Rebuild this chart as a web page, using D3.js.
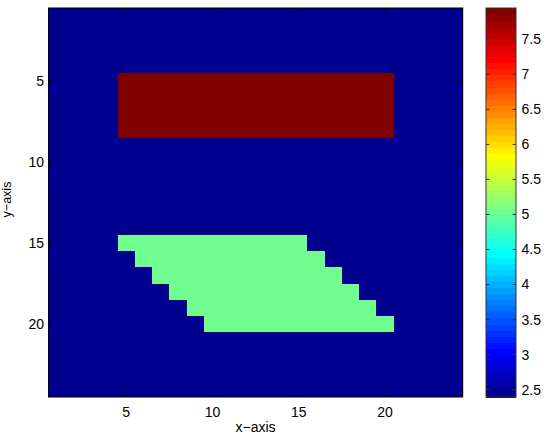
<!DOCTYPE html>
<html>
<head>
<meta charset="utf-8">
<script src="https://cdn.jsdelivr.net/npm/d3@7"></script>
<style>
  html, body { margin: 0; padding: 0; background: #fff; }
  text { font-family: "Liberation Sans", Arial, Helvetica, sans-serif; }
</style>
</head>
<body>
<svg id="chart" width="550" height="440"></svg>
<script>
// ---- data ----
// grid rows (y = 1..24), each char is a level index into levelValues
const gridRows = [
  "000000000000000000000000",
  "000000000000000000000000",
  "000000000000000000000000",
  "000000000000000000000000",
  "000022222222222222220000",
  "000022222222222222220000",
  "000022222222222222220000",
  "000022222222222222220000",
  "000000000000000000000000",
  "000000000000000000000000",
  "000000000000000000000000",
  "000000000000000000000000",
  "000000000000000000000000",
  "000000000000000000000000",
  "000011111111111000000000",
  "000001111111111100000000",
  "000000111111111110000000",
  "000000011111111111000000",
  "000000001111111111100000",
  "000000000111111111110000",
  "000000000000000000000000",
  "000000000000000000000000",
  "000000000000000000000000",
  "000000000000000000000000"
];
const levelValues = [2.394, 5.04, 7.947];
const colorLimits = [2.394, 7.947];
const xTicks = [5, 10, 15, 20];
const yTicks = [5, 10, 15, 20];
const cbTicks = [2.5, 3, 3.5, 4, 4.5, 5, 5.5, 6, 6.5, 7, 7.5];
const xLabel = "x\u2212axis";
const yLabel = "y\u2212axis";

// ---- MATLAB jet colormap ----
function jet(m) {
  const n = Math.ceil(m / 4);
  const u = [];
  for (let i = 1; i <= n; i++) u.push(i / n);
  for (let i = 1; i <= n - 1; i++) u.push(1);
  for (let i = n; i >= 1; i--) u.push(i / n);
  const off = Math.ceil(n / 2) - (m % 4 === 1 ? 1 : 0);
  const J = d3.range(m).map(() => [0, 0, 0]);
  u.forEach((v, k) => {
    const g = off + k + 1, r = g + n, b = g - n;
    if (r >= 1 && r <= m) J[r - 1][0] = v;
    if (g >= 1 && g <= m) J[g - 1][1] = v;
    if (b >= 1 && b <= m) J[b - 1][2] = v;
  });
  return J.map(c => d3.rgb(c[0] * 255, c[1] * 255, c[2] * 255).formatHex());
}
const cmap = jet(64);
const color = d3.scaleQuantize().domain(colorLimits).range(cmap);

// ---- layout ----
const svg = d3.select("#chart");
const L = 48.5, R = 462.7, T = 8, B = 397;
const x = d3.scaleLinear().domain([0.5, 24.5]).range([L, R]);
const y = d3.scaleLinear().domain([0.5, 24.5]).range([T, B]);

const cells = [];
gridRows.forEach((row, ri) => {
  row.split("").forEach((ch, ci) => {
    cells.push({ col: ci + 1, row: ri + 1, v: levelValues[+ch] });
  });
});

svg.append("g").selectAll("rect").data(cells).join("rect")
  .attr("x", d => x(d.col - 0.5))
  .attr("y", d => y(d.row - 0.5))
  .attr("width", d => x(d.col + 0.5) - x(d.col - 0.5) + 0.4)
  .attr("height", d => y(d.row + 0.5) - y(d.row - 0.5) + 0.4)
  .attr("fill", d => color(d.v))
  .attr("shape-rendering", "crispEdges");

// axes with inward ticks
const tickLen = 4;
const fontSize = 14;
const axG = svg.append("g");
axG.append("rect").attr("x", L).attr("y", T).attr("width", R - L).attr("height", B - T)
  .attr("fill", "none").attr("stroke", "#000").attr("stroke-width", 1);

xTicks.forEach(t => {
  const px = x(t);
  axG.append("line").attr("x1", px).attr("x2", px).attr("y1", B).attr("y2", B - tickLen).attr("stroke", "#000");
  axG.append("line").attr("x1", px).attr("x2", px).attr("y1", T).attr("y2", T + tickLen).attr("stroke", "#000");
  axG.append("text").attr("x", px).attr("y", B + 20).attr("text-anchor", "middle")
    .attr("font-size", fontSize).text(t);
});
yTicks.forEach(t => {
  const py = y(t);
  axG.append("line").attr("x1", L).attr("x2", L + tickLen).attr("y1", py).attr("y2", py).attr("stroke", "#000");
  axG.append("line").attr("x1", R).attr("x2", R - tickLen).attr("y1", py).attr("y2", py).attr("stroke", "#000");
  axG.append("text").attr("x", L - 4.5).attr("y", py + 5).attr("text-anchor", "end")
    .attr("font-size", fontSize).text(t);
});

axG.append("text").attr("x", (L + R) / 2).attr("y", 432).attr("text-anchor", "middle")
  .attr("font-size", fontSize).text(xLabel);
axG.append("text").attr("transform", `translate(11,${(T + B) / 2 - 3}) rotate(-90)`)
  .attr("text-anchor", "middle").attr("font-size", 12.5).text(yLabel);

// ---- colorbar ----
const CL = 486, CR = 516;
const cy = d3.scaleLinear().domain(colorLimits).range([B, T]);
const cbG = svg.append("g");
const step = (colorLimits[1] - colorLimits[0]) / cmap.length;
cbG.selectAll("rect").data(cmap).join("rect")
  .attr("x", CL)
  .attr("y", (c, i) => cy(colorLimits[0] + (i + 1) * step))
  .attr("width", CR - CL)
  .attr("height", (c, i) => cy(colorLimits[0] + i * step) - cy(colorLimits[0] + (i + 1) * step) + 0.5)
  .attr("fill", c => c)
  .attr("shape-rendering", "crispEdges");
cbG.append("rect").attr("x", CL).attr("y", T).attr("width", CR - CL).attr("height", B - T)
  .attr("fill", "none").attr("stroke", "#333").attr("stroke-width", 1);
cbTicks.forEach(t => {
  const py = cy(t);
  cbG.append("line").attr("x1", CL).attr("x2", CL + 3.5).attr("y1", py).attr("y2", py).attr("stroke", "#333");
  cbG.append("line").attr("x1", CR).attr("x2", CR - 3.5).attr("y1", py).attr("y2", py).attr("stroke", "#333");
  cbG.append("text").attr("x", CR + 5.5).attr("y", py + 5).attr("text-anchor", "start")
    .attr("font-size", fontSize).text(t);
});
</script>
</body>
</html>
